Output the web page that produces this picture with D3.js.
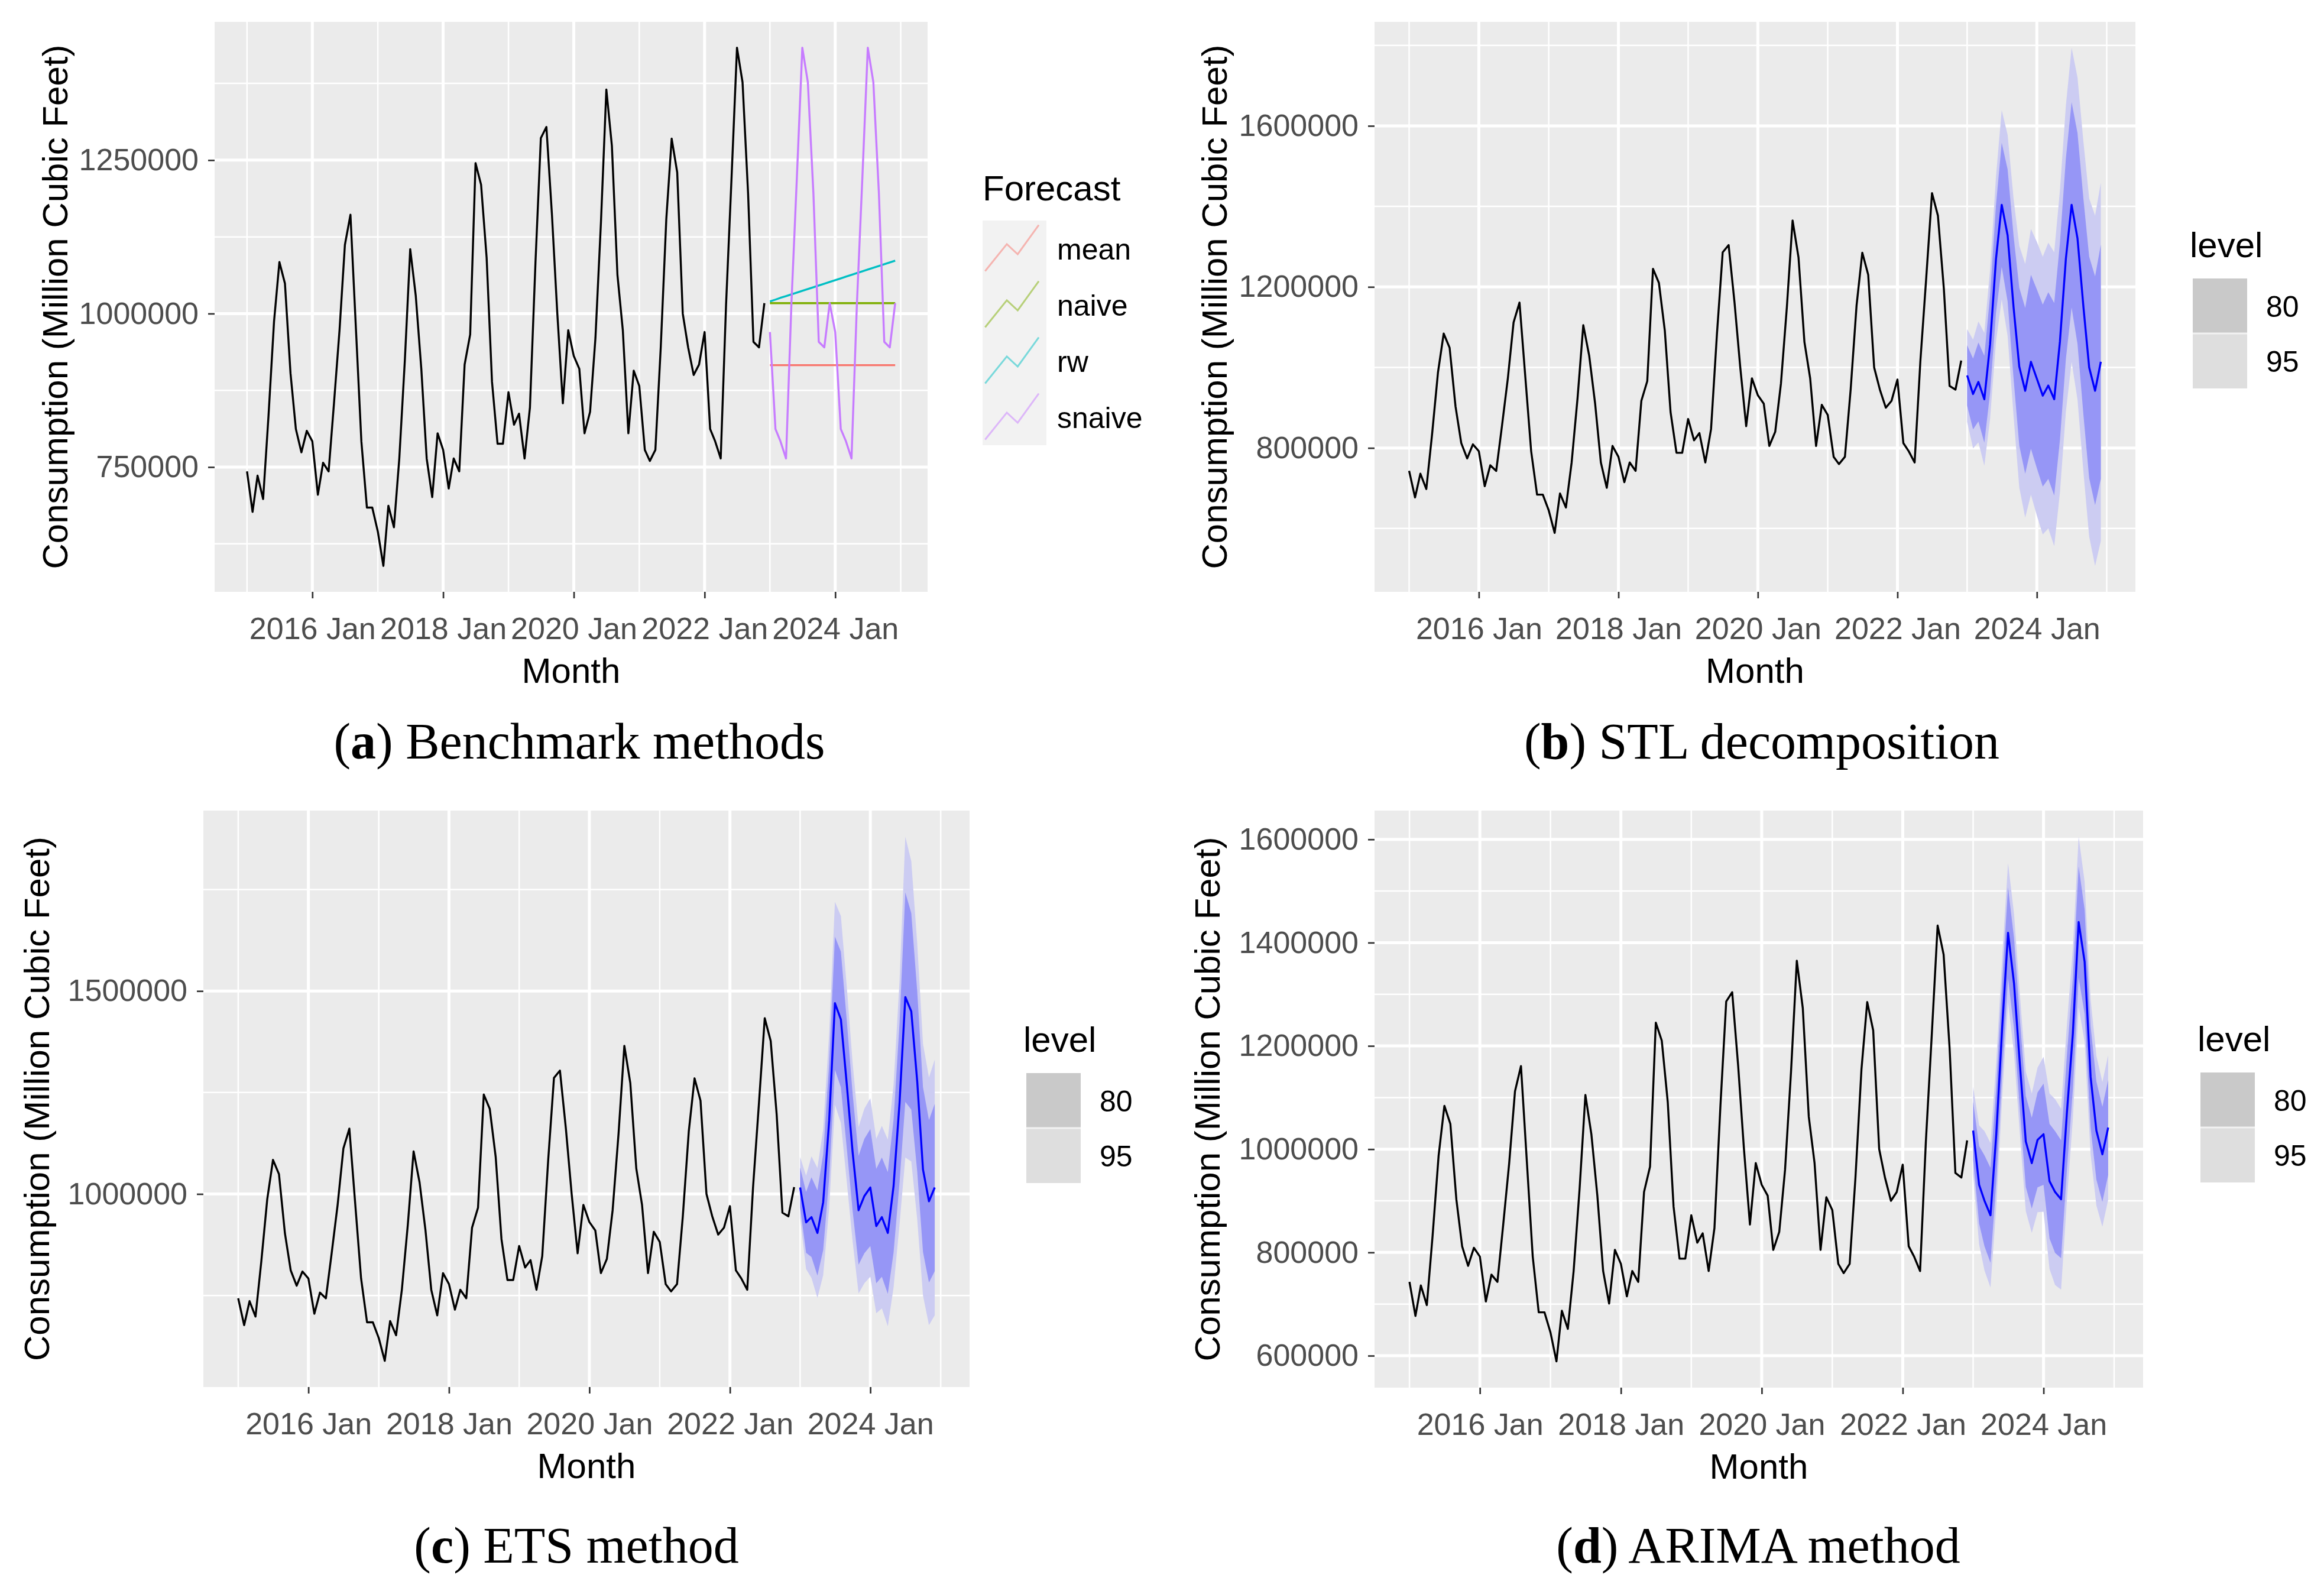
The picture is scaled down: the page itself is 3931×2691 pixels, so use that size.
<!DOCTYPE html>
<html>
<head>
<meta charset="utf-8">
<script src="https://cdn.jsdelivr.net/npm/d3@7"></script>
<style>
  body { margin: 0; background: #fff; }
  text { font-family: "Liberation Sans", Arial, sans-serif; }
</style>
</head>
<body>
<script>
// monthly natural gas consumption, 2015 Jan .. 2022 Dec
const histStart = '2015 Jan'
const consumption = [
  743000, 677000, 736000, 698000, 833000, 987000, 1084000, 1049000, 903000, 812000, 774000, 809000,
  792000, 705000, 757000, 743000, 854000, 973000, 1112000, 1161000, 973000, 792000, 684000, 684000,
  645000, 589000, 687000, 652000, 764000, 924000, 1105000, 1029000, 910000, 764000, 701000, 805000,
  778000, 715000, 764000, 743000, 917000, 966000, 1245000, 1210000, 1091000, 889000, 788000, 788000,
  872000, 819000, 837000, 764000, 847000, 1084000, 1286000, 1304000, 1161000, 1000000, 854000, 973000,
  931000, 910000, 805000, 840000, 960000, 1150000, 1365000, 1273000, 1063000, 973000, 805000, 907000,
  882000, 778000, 760000, 778000, 945000, 1154000, 1285000, 1230000, 1000000, 945000, 900000, 917000,
  970000, 812000, 792000, 764000, 1015000, 1224000, 1433000, 1377000, 1196000, 954000, 945000, 1017000
]

// (a) benchmark forecasts, 24 months
const benchmarkNames = ['mean', 'naive', 'rw', 'snaive']
const meanFc = [916000, 916000, 916000, 916000, 916000, 916000, 916000, 916000, 916000, 916000, 916000, 916000,
  916000, 916000, 916000, 916000, 916000, 916000, 916000, 916000, 916000, 916000, 916000, 916000]
const naiveFc = [1017000, 1017000, 1017000, 1017000, 1017000, 1017000, 1017000, 1017000, 1017000, 1017000, 1017000, 1017000,
  1017000, 1017000, 1017000, 1017000, 1017000, 1017000, 1017000, 1017000, 1017000, 1017000, 1017000, 1017000]
const rwFc = [1019900, 1022800, 1025700, 1028500, 1031400, 1034300, 1037200, 1040100, 1043000, 1045800, 1048700, 1051600,
  1054500, 1057400, 1060300, 1063100, 1066000, 1068900, 1071800, 1074700, 1077600, 1080400, 1083300, 1086200]
const snaiveFc = [970000, 812000, 792000, 764000, 1015000, 1224000, 1433000, 1377000, 1196000, 954000, 945000, 1017000,
  970000, 812000, 792000, 764000, 1015000, 1224000, 1433000, 1377000, 1196000, 954000, 945000, 1017000]

// (b) STL
const stlMean = [980000, 934000, 964000, 921000, 1057000, 1269000, 1404000, 1328000, 1150000, 1002000, 942000, 1014000,
  972000, 930000, 955000, 921000, 1065000, 1270000, 1404000, 1320000, 1150000, 1000000, 942000, 1014000]
const stlPi80 = [75000, 88000, 98000, 108000, 121000, 134000, 154000, 164000, 177000, 196000, 206000, 216000,
  222000, 226000, 232000, 239000, 245000, 249000, 255000, 262000, 268000, 275000, 284000, 291000]
const stlPi95 = [115000, 135000, 150000, 165000, 185000, 205000, 235000, 250000, 270000, 300000, 315000, 330000,
  340000, 345000, 355000, 365000, 375000, 380000, 390000, 400000, 410000, 420000, 435000, 445000]

// (c) ETS
const etsMean = [1016000, 930000, 943000, 904000, 980000, 1180000, 1470000, 1430000, 1268000, 1103000, 960000, 995000,
  1016000, 921000, 943000, 904000, 1020000, 1225000, 1485000, 1450000, 1277000, 1060000, 982000, 1016000]
const etsPi80 = [49000, 75000, 98000, 105000, 118000, 141000, 164000, 167000, 157000, 144000, 134000, 141000,
  144000, 141000, 147000, 150000, 164000, 196000, 258000, 242000, 222000, 203000, 200000, 206000]
const etsPi95 = [75000, 115000, 150000, 160000, 180000, 215000, 250000, 255000, 240000, 220000, 205000, 215000,
  220000, 215000, 225000, 230000, 250000, 300000, 395000, 370000, 340000, 310000, 305000, 315000]

// (d) ARIMA
const arimaMean = [1036000, 931000, 900000, 872000, 1029000, 1238000, 1419000, 1321000, 1161000, 1015000, 973000, 1018000,
  1029000, 938000, 917000, 903000, 1070000, 1224000, 1440000, 1363000, 1140000, 1036000, 990000, 1042000]
const arimaPi80 = [56000, 75000, 88000, 92000, 92000, 88000, 88000, 88000, 88000, 88000, 88000, 92000,
  98000, 111000, 118000, 114000, 111000, 108000, 108000, 101000, 98000, 95000, 92000, 92000]
const arimaPi95 = [85000, 115000, 135000, 140000, 140000, 135000, 135000, 135000, 135000, 135000, 135000, 140000,
  150000, 170000, 180000, 175000, 170000, 165000, 165000, 155000, 150000, 145000, 140000, 140000]

const xTickLabels = ['2016 Jan', '2018 Jan', '2020 Jan', '2022 Jan', '2024 Jan']
const yTicksA = [750000, 1000000, 1250000]
const yTicksB = [800000, 1200000, 1600000]
const yTicksC = [1000000, 1500000]
const yTicksD = [600000, 800000, 1000000, 1200000, 1400000, 1600000]
const levelNames = ['80', '95']

const W = 3931, H = 2691
const benchColors = ['#F8766D', '#7CAE00', '#00BFC4', '#C77CFF']
const fill95 = 'rgb(204,204,242)'
const fill80 = 'rgb(150,150,246)'

const parseMonth = d3.timeParse('%Y %b')
const t0 = parseMonth(histStart)
const histDates = consumption.map((d, i) => d3.timeMonth.offset(t0, i))
const fcDates = meanFc.map((d, i) => d3.timeMonth.offset(t0, consumption.length + i))
const tEnd = fcDates[fcDates.length - 1]
const span = tEnd - t0
const xDomain = [new Date(+t0 - span * 0.05), new Date(+tEnd + span * 0.05)]
const xTicks = xTickLabels.map(parseMonth)

const svg = d3.select('body').append('svg').attr('width', W).attr('height', H)
svg.append('rect').attr('width', W).attr('height', H).attr('fill', '#fff')

function minorBreaks(ticks, domain) {
  const step = ticks.length > 1 ? ticks[1] - ticks[0] : 500000
  const out = []
  for (let v = ticks[0] - step / 2; v <= ticks[ticks.length - 1] + step / 2 + 1; v += step) out.push(v)
  return out.filter(v => v >= domain[0] && v <= domain[1])
}

function drawPanel(p) {
  const g = svg.append('g').attr('class', 'panel-' + p.id)
  const x = d3.scaleTime().domain(xDomain).range([p.left, p.right])

  let vals = consumption.slice()
  if (p.kind === 'bench') {
    vals = vals.concat(meanFc, naiveFc, rwFc, snaiveFc)
  } else {
    p.mean.forEach((m, i) => { vals.push(m - p.pi95[i], m + p.pi95[i]) })
  }
  const [lo, hi] = d3.extent(vals)
  const pad = (hi - lo) * 0.05
  const y = d3.scaleLinear().domain([lo - pad, hi + pad]).range([p.bottom, p.top])

  g.append('rect')
    .attr('x', p.left).attr('y', p.top)
    .attr('width', p.right - p.left).attr('height', p.bottom - p.top)
    .attr('fill', '#EBEBEB')

  const clipId = 'clip-' + p.id
  g.append('clipPath').attr('id', clipId).append('rect')
    .attr('x', p.left).attr('y', p.top)
    .attr('width', p.right - p.left).attr('height', p.bottom - p.top)

  // grid
  const yMinor = minorBreaks(p.yTicks, y.domain())
  const xMinor = xTicks.map(t => d3.timeYear.offset(t, -1))
    .concat([d3.timeYear.offset(xTicks[xTicks.length - 1], 1)])
    .filter(t => t >= xDomain[0] && t <= xDomain[1])

  const grid = g.append('g').attr('stroke', '#fff')
  grid.selectAll('.ymin').data(yMinor).join('line')
    .attr('x1', p.left).attr('x2', p.right)
    .attr('y1', d => y(d)).attr('y2', d => y(d)).attr('stroke-width', 2.5)
  grid.selectAll('.xmin').data(xMinor).join('line')
    .attr('y1', p.top).attr('y2', p.bottom)
    .attr('x1', d => x(d)).attr('x2', d => x(d)).attr('stroke-width', 2.5)
  grid.selectAll('.ymaj').data(p.yTicks).join('line')
    .attr('x1', p.left).attr('x2', p.right)
    .attr('y1', d => y(d)).attr('y2', d => y(d)).attr('stroke-width', 5)
  grid.selectAll('.xmaj').data(xTicks).join('line')
    .attr('y1', p.top).attr('y2', p.bottom)
    .attr('x1', d => x(d)).attr('x2', d => x(d)).attr('stroke-width', 5)

  const body = g.append('g').attr('clip-path', `url(#${clipId})`)
  const line = d3.line().x(d => x(d.date)).y(d => y(d.value))

  if (p.kind !== 'bench') {
    const fc = p.mean.map((m, i) => ({ date: fcDates[i], value: m, w80: p.pi80[i], w95: p.pi95[i] }))
    body.append('path').datum(fc)
      .attr('fill', fill95)
      .attr('d', d3.area().x(d => x(d.date)).y0(d => y(d.value - d.w95)).y1(d => y(d.value + d.w95)))
    body.append('path').datum(fc)
      .attr('fill', fill80)
      .attr('d', d3.area().x(d => x(d.date)).y0(d => y(d.value - d.w80)).y1(d => y(d.value + d.w80)))
  }

  body.append('path')
    .datum(consumption.map((v, i) => ({ date: histDates[i], value: v })))
    .attr('fill', 'none').attr('stroke', '#000').attr('stroke-width', 3.4)
    .attr('stroke-linejoin', 'round').attr('d', line)

  if (p.kind === 'bench') {
    [meanFc, naiveFc, rwFc, snaiveFc].forEach((s, k) => {
      body.append('path')
        .datum(s.map((v, i) => ({ date: fcDates[i], value: v })))
        .attr('fill', 'none').attr('stroke', benchColors[k]).attr('stroke-width', 3.4)
        .attr('stroke-linejoin', 'round').attr('d', line)
    })
  } else {
    body.append('path')
      .datum(p.mean.map((v, i) => ({ date: fcDates[i], value: v })))
      .attr('fill', 'none').attr('stroke', '#0000FF').attr('stroke-width', 3.4)
      .attr('stroke-linejoin', 'round').attr('d', line)
  }

  // axes
  const xAxis = g.append('g').attr('transform', `translate(0,${p.bottom})`)
    .call(d3.axisBottom(x).tickValues(xTicks).tickFormat(d3.timeFormat('%Y %b')).tickSize(11).tickPadding(32))
  const yAxis = g.append('g').attr('transform', `translate(${p.left},0)`)
    .call(d3.axisLeft(y).tickValues(p.yTicks).tickFormat(d3.format('d')).tickSize(11).tickPadding(16))
  ;[xAxis, yAxis].forEach(a => {
    a.select('.domain').remove()
    a.selectAll('.tick line').attr('stroke', '#333333').attr('stroke-width', 2.7)
    a.selectAll('.tick text').attr('fill', '#4D4D4D').attr('font-size', 52)
      .style('font-family', '"Liberation Sans", Arial, sans-serif')
  })

  g.append('text')
    .attr('x', (p.left + p.right) / 2).attr('y', p.bottom + 154)
    .attr('text-anchor', 'middle').attr('font-size', 60).attr('fill', '#000')
    .text('Month')
  const cy = (p.top + p.bottom) / 2
  const cx = p.left - p.yTitleOff
  g.append('text')
    .attr('transform', `translate(${cx + 21},${cy}) rotate(-90)`)
    .attr('text-anchor', 'middle').attr('font-size', 60).attr('fill', '#000')
    .text('Consumption (Million Cubic Feet)')

  // legend
  const lg = g.append('g').attr('transform', `translate(${p.legX},${p.legY})`)
  if (p.kind === 'bench') {
    lg.append('text').attr('x', 0).attr('y', 22).attr('font-size', 60).attr('fill', '#000').text('Forecast')
    const kw = 108, kh = 95
    benchmarkNames.forEach((name, k) => {
      const ky = 56 + k * kh
      lg.append('rect').attr('x', 0).attr('y', ky).attr('width', kw).attr('height', kh).attr('fill', '#F2F2F2')
      const pts = [[0.04, 0.9], [0.38, 0.42], [0.55, 0.6], [0.88, 0.08]]
      lg.append('path')
        .attr('d', d3.line()(pts.map(q => [q[0] * kw, ky + q[1] * kh])))
        .attr('fill', 'none').attr('stroke', benchColors[k]).attr('stroke-opacity', 0.5).attr('stroke-width', 3)
      lg.append('text').attr('x', kw + 18).attr('y', ky + kh / 2 + 18)
        .attr('font-size', 50).attr('fill', '#000').text(name)
    })
  } else {
    lg.append('text').attr('x', 0).attr('y', 22).attr('font-size', 60).attr('fill', '#000').text('level')
    const kw = 92, kh = 93
    const keyFills = ['#C9C9C9', '#DEDEDE']
    levelNames.forEach((name, k) => {
      const ky = 58 + k * kh
      lg.append('rect').attr('x', 5).attr('y', ky).attr('width', kw).attr('height', kh).attr('fill', keyFills[k])
      lg.append('text').attr('x', 5 + kw + 32).attr('y', ky + kh / 2 + 18)
        .attr('font-size', 50).attr('fill', '#000').text(name)
    })
    lg.append('line').attr('x1', 5).attr('x2', 5 + kw).attr('y1', 58 + kh).attr('y2', 58 + kh)
      .attr('stroke', '#F2F2F2').attr('stroke-width', 3)
  }

  // caption
  const cap = svg.append('text')
    .attr('x', p.capX).attr('y', p.capY).attr('text-anchor', 'middle')
    .attr('font-size', 86).attr('fill', '#000')
    .style('font-family', '"Liberation Serif", "Times New Roman", serif')
  cap.append('tspan').text('(')
  cap.append('tspan').attr('font-weight', 'bold').text(p.id)
  cap.append('tspan').text(') ' + p.caption)
}

const panels = [
  { id: 'a', kind: 'bench', left: 363, right: 1569, top: 37, bottom: 1001, yTicks: yTicksA, yTitleOff: 270,
    legX: 1662, legY: 317, capX: 980, capY: 1283, caption: 'Benchmark methods' },
  { id: 'b', kind: 'interval', left: 2325, right: 3612, top: 37, bottom: 1001, yTicks: yTicksB, yTitleOff: 271,
    mean: stlMean, pi80: stlPi80, pi95: stlPi95,
    legX: 3704, legY: 413, capX: 2980, capY: 1283, caption: 'STL decomposition' },
  { id: 'c', kind: 'interval', left: 344, right: 1640, top: 1371, bottom: 2346, yTicks: yTicksC, yTitleOff: 282,
    mean: etsMean, pi80: etsPi80, pi95: etsPi95,
    legX: 1731, legY: 1757, capX: 975, capY: 2643, caption: 'ETS method' },
  { id: 'd', kind: 'interval', left: 2325, right: 3625, top: 1371, bottom: 2347, yTicks: yTicksD, yTitleOff: 283,
    mean: arimaMean, pi80: arimaPi80, pi95: arimaPi95,
    legX: 3717, legY: 1756, capX: 2974, capY: 2643, caption: 'ARIMA method' }
]

panels.forEach(drawPanel)
</script>
</body>
</html>
